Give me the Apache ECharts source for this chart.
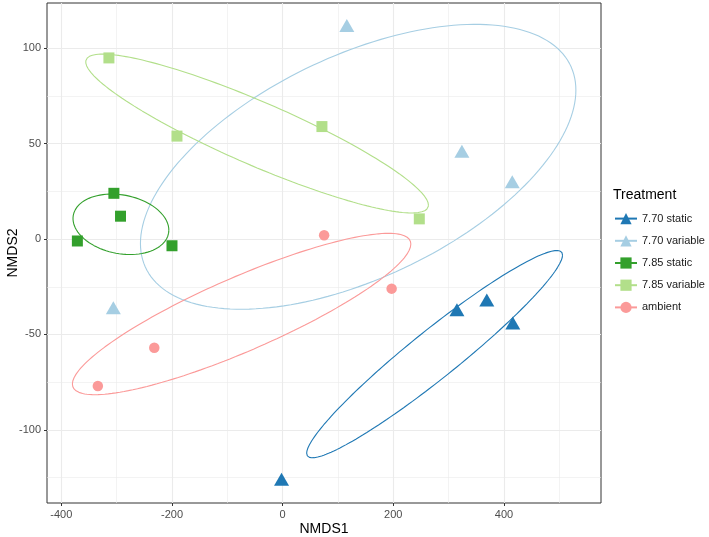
<!DOCTYPE html>
<html>
<head>
<meta charset="utf-8">
<script src="https://cdn.jsdelivr.net/npm/echarts@6/dist/echarts.min.js"></script>
<style>html,body{margin:0;padding:0;background:#fff;}#c{width:709px;height:537px;}</style>
</head>
<body>
<div id="c"></div>
<script>
// ---- Data ----
const groups = ['7.70 static', '7.70 variable', '7.85 static', '7.85 variable', 'ambient'];
const colors = ['#1f78b4', '#a6cee3', '#33a02c', '#b2df8a', '#fb9a99'];
const symbols = ['triangle', 'triangle', 'rect', 'rect', 'circle'];

const pts770static   = [[-2, -126], [315, -37], [369, -32], [416, -44]];
const pts770variable = [[116, 112], [324, 46], [415, 30], [-306, -36]];
const pts785static   = [[-305, 24], [-293, 12], [-371, -1], [-200, -3.5]];
const pts785variable = [[-314, 95], [-191, 54], [71, 59], [247, 10.6]];
const ptsAmbient     = [[75, 2], [197, -26], [-232, -57], [-334, -77]];
const groupPoints = [pts770static, pts770variable, pts785static, pts785variable, ptsAmbient];

// 95% ellipses: [xmin, xmax, ymin, ymax, y at rightmost point]
const ell770static   = [43.4, 505.9, -114.7, -6.0, -8.4];
const ell770variable = [-257, 530, -36.8, 112.6, 78.1];
const ell785static   = [-378.9, -205.7, -8.1, 23.6, 4.7];
const ell785variable = [-355.9, 263.5, 13.7, 97.0, 17.8];
const ellAmbient     = [-380, 231.7, -81.6, 3.0, -2.6];
const groupEllipses = [ell770static, ell770variable, ell785static, ell785variable, ellAmbient];

const xTicks = [-400, -200, 0, 200, 400];
const xMinor = [-300, -100, 100, 300, 500];
const yTicks = [-100, -50, 0, 50, 100];
const yMinor = [-125, -75, -25, 25, 75];
const xRange = [-425.9, 575.4];
const yRange = [-138.4, 123.8];

// ---- Build ellipse outlines from the read extents ----
function ellipsePath(e) {
  const [x0, x1, y0, y1, yr] = e;
  const cx = (x0 + x1) / 2, cy = (y0 + y1) / 2;
  const A = (x1 - x0) / 2, B = (y1 - y0) / 2;
  let c = (yr - cy) / B; c = Math.max(-1, Math.min(1, c));
  const s = Math.sqrt(1 - c * c);
  const out = [];
  const n = 180;
  for (let i = 0; i <= n; i++) {
    const t = 2 * Math.PI * i / n;
    out.push([cx + A * Math.cos(t), cy + B * (c * Math.cos(t) + s * Math.sin(t))]);
  }
  return out;
}

const font = 'Liberation Sans, Arial, Helvetica, sans-serif';
const series = [];

// grid lines (drawn through the axes' scales)
const gridLine = (v, axis, w) => ({ [axis]: v, lineStyle: { color: '#ebebeb', width: w, type: 'solid' } });
series.push({
  type: 'scatter', data: [], z: 0, silent: true,
  markLine: {
    z: 0, silent: true, symbol: ['none', 'none'], animation: false, label: { show: false },
    emphasis: { disabled: true },
    data: [
      ...xMinor.map(v => gridLine(v, 'xAxis', 0.6)),
      ...yMinor.map(v => gridLine(v, 'yAxis', 0.6)),
      ...xTicks.map(v => gridLine(v, 'xAxis', 1.1)),
      ...yTicks.map(v => gridLine(v, 'yAxis', 1.1))
    ]
  }
});

groups.forEach((g, i) => {
  series.push({
    name: g, type: 'line', data: ellipsePath(groupEllipses[i]),
    showSymbol: false, symbol: symbols[i], smooth: false, z: 3,
    lineStyle: { color: colors[i], width: 1.1 },
    itemStyle: { color: colors[i] },
    silent: true, animation: false
  });
});
const sizes = [[15, 13], [15, 13], [11, 11], [11, 11], [10.5, 10.5]];
groups.forEach((g, i) => {
  series.push({
    name: g, type: 'scatter', data: groupPoints[i],
    symbol: symbols[i], symbolSize: sizes[i], z: 4,
    itemStyle: { color: colors[i], opacity: 1 },
    animation: false
  });
});

const chart = echarts.init(document.getElementById('c'));
chart.setOption({
  backgroundColor: '#ffffff',
  animation: false,
  title: {
    text: 'Treatment', left: 613, top: 188, padding: 0,
    textStyle: { fontFamily: font, fontSize: 14, fontWeight: 'normal', color: '#000' }
  },
  legend: {
    data: groups, orient: 'vertical', left: 614, top: 213, padding: 0,
    itemWidth: 22, itemHeight: 14, itemGap: 11,
    textStyle: { fontFamily: font, fontSize: 11, color: '#1a1a1a' },
    selectedMode: false
  },
  grid: {
    left: 47, right: 108, top: 3, bottom: 34, containLabel: false, outerBoundsMode: 'none',
    show: true, borderColor: '#333333', borderWidth: 1, backgroundColor: 'transparent'
  },
  xAxis: {
    type: 'value', min: xRange[0], max: xRange[1],
    name: 'NMDS1', nameLocation: 'middle', nameGap: 19, nameMoveOverlap: false,
    nameTextStyle: { fontFamily: font, fontSize: 14, color: '#000' },
    axisLine: { show: false, onZero: false },
    axisTick: { show: true, length: 3, customValues: xTicks, lineStyle: { color: '#333333', width: 1 } },
    axisLabel: { customValues: xTicks, margin: 6, fontFamily: font, fontSize: 11, color: '#4d4d4d' },
    splitLine: { show: false }, minorSplitLine: { show: false }
  },
  yAxis: {
    type: 'value', min: yRange[0], max: yRange[1],
    name: 'NMDS2', nameLocation: 'middle', nameGap: 27, nameRotate: 90, nameMoveOverlap: false,
    nameTextStyle: { fontFamily: font, fontSize: 14, color: '#000' },
    axisLine: { show: false, onZero: false },
    axisTick: { show: true, length: 3, customValues: yTicks, lineStyle: { color: '#333333', width: 1 } },
    axisLabel: { customValues: yTicks, margin: 6, fontFamily: font, fontSize: 11, color: '#4d4d4d' },
    splitLine: { show: false }, minorSplitLine: { show: false }
  },
  series: series
});
</script>
</body>
</html>
